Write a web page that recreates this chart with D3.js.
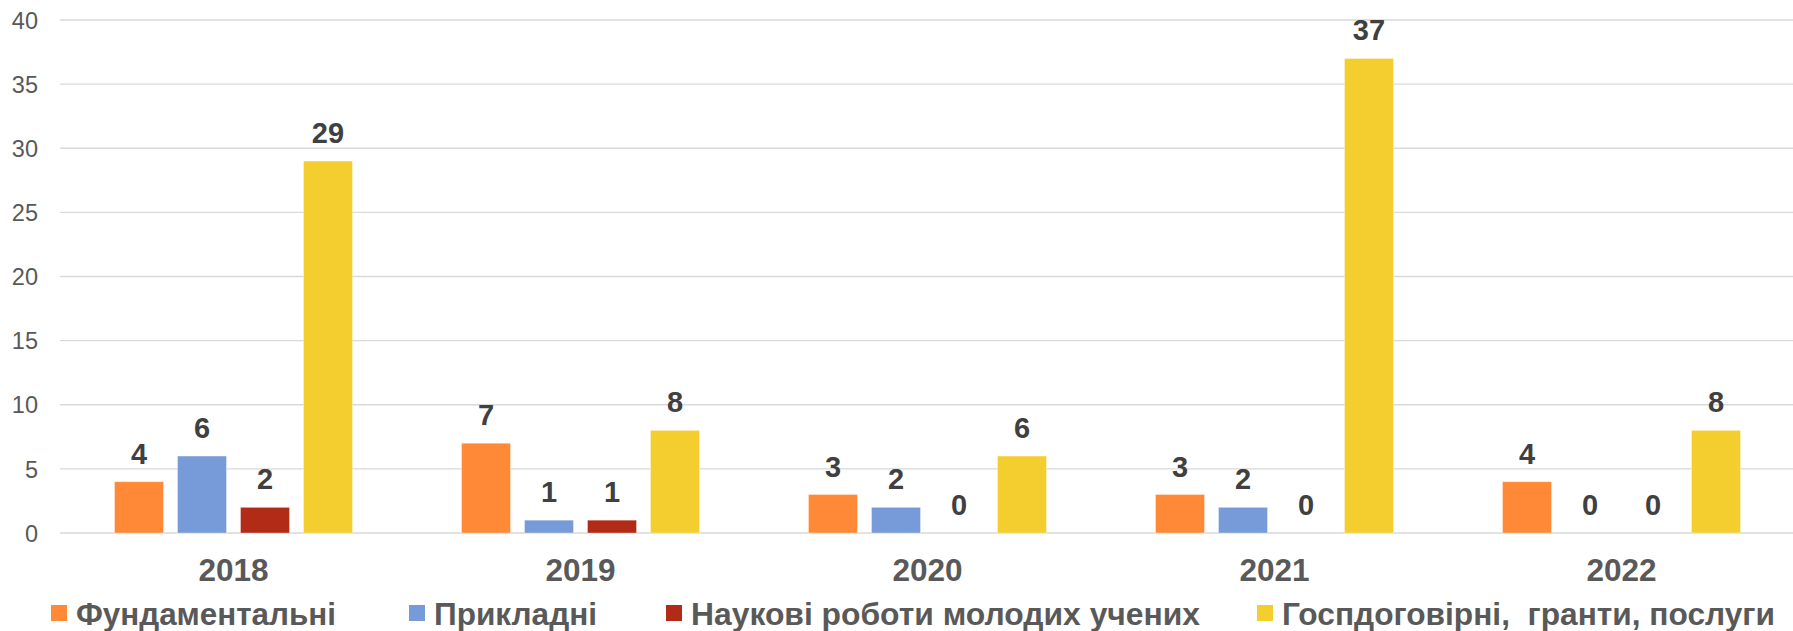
<!DOCTYPE html>
<html>
<head>
<meta charset="utf-8">
<script src="https://cdn.jsdelivr.net/npm/d3@7"></script>
<style>
  html, body { margin: 0; padding: 0; background: #ffffff; }
  svg { display: block; font-family: "Liberation Sans", Arial, sans-serif; }
</style>
</head>
<body>
<svg id="chart" width="1793" height="631"></svg>
<script>
const years = ["2018", "2019", "2020", "2021", "2022"];
const seriesNames = ["Фундаментальні", "Прикладні", "Наукові роботи молодих учених", "Госпдоговірні,  гранти, послуги"];
const fundamental = [4, 7, 3, 3, 4];
const applied = [6, 1, 2, 2, 0];
const young = [2, 1, 0, 0, 0];
const contracts = [29, 8, 6, 37, 8];
const yTicks = [0, 5, 10, 15, 20, 25, 30, 35, 40];
const colors = ["#FF8936", "#779BD8", "#B22B17", "#F4CD2E"];

const seriesValues = [fundamental, applied, young, contracts];

const svg = d3.select("#chart");
const W = 1793, H = 631;
const plot = { left: 60, right: 1795, top: 20, bottom: 533 };

const x0 = d3.scaleBand().domain(years).range([plot.left, plot.right]).padding(0);
const groupW = 238;
const off = (x0.bandwidth() - groupW) / 2;
const x1 = d3.scaleBand().domain(d3.range(seriesNames.length))
  .range([off, off + groupW]).paddingInner(14 / 63).paddingOuter(0);
const y = d3.scaleLinear().domain([0, 40]).range([plot.bottom, plot.top]);

// gridlines
svg.append("g").selectAll("line").data(yTicks).join("line")
  .attr("x1", plot.left).attr("x2", W)
  .attr("y1", d => y(d)).attr("y2", d => y(d))
  .attr("stroke", "#D9D9D9").attr("stroke-width", 1.3);

// y axis labels
const yAxis = d3.axisLeft(y).tickValues(yTicks).tickSize(0).tickPadding(0);
const yg = svg.append("g").attr("transform", `translate(38,0)`).call(yAxis);
yg.select(".domain").remove();
yg.selectAll("text").attr("font-size", 23.5).attr("fill", "#595959")
  .attr("font-family", "'Liberation Sans', Arial, sans-serif").attr("dy", "0.35em");

// bars
const groups = svg.append("g").selectAll("g").data(years).join("g")
  .attr("transform", d => `translate(${x0(d)},0)`);

groups.each(function(yr, i) {
  const g = d3.select(this);
  const vals = seriesValues.map((s, k) => ({ k, v: s[i] }));
  g.selectAll("rect").data(vals.filter(d => d.v > 0)).join("rect")
    .attr("x", d => x1(d.k)).attr("width", x1.bandwidth())
    .attr("y", d => y(d.v)).attr("height", d => y(0) - y(d.v))
    .attr("fill", d => colors[d.k])
    .attr("stroke", "#ffffff").attr("stroke-opacity", 0.35).attr("stroke-width", 1);
  g.selectAll("text").data(vals).join("text")
    .attr("x", d => x1(d.k) + x1.bandwidth() / 2)
    .attr("y", d => y(d.v) - 18)
    .attr("text-anchor", "middle")
    .attr("font-size", 29).attr("font-weight", "bold").attr("fill", "#404040")
    .text(d => d.v);
});

// x axis labels
const xAxis = d3.axisBottom(x0).tickSize(0).tickPadding(0);
const xg = svg.append("g").attr("transform", `translate(0,581)`).call(xAxis);
xg.select(".domain").remove();
xg.selectAll("text").attr("font-size", 31.5).attr("font-weight", "bold").attr("fill", "#595959")
  .attr("font-family", "'Liberation Sans', Arial, sans-serif").attr("dy", 0);

// legend
const legendX = [51, 409, 666, 1257];
const legendTextW = [260, 163, 509, 493];
const leg = svg.append("g").selectAll("g").data(seriesNames).join("g")
  .attr("transform", (d, i) => `translate(${legendX[i]},605)`);
leg.append("rect").attr("width", 16).attr("height", 16).attr("fill", (d, i) => colors[i]);
leg.append("text").attr("x", 25).attr("y", 20)
  .attr("font-size", 31.5).attr("font-weight", "bold").attr("fill", "#595959")
  .attr("xml:space", "preserve").style("white-space", "pre")
  .attr("textLength", (d, i) => legendTextW[i]).attr("lengthAdjust", "spacingAndGlyphs")
  .text(d => d);
</script>
</body>
</html>
